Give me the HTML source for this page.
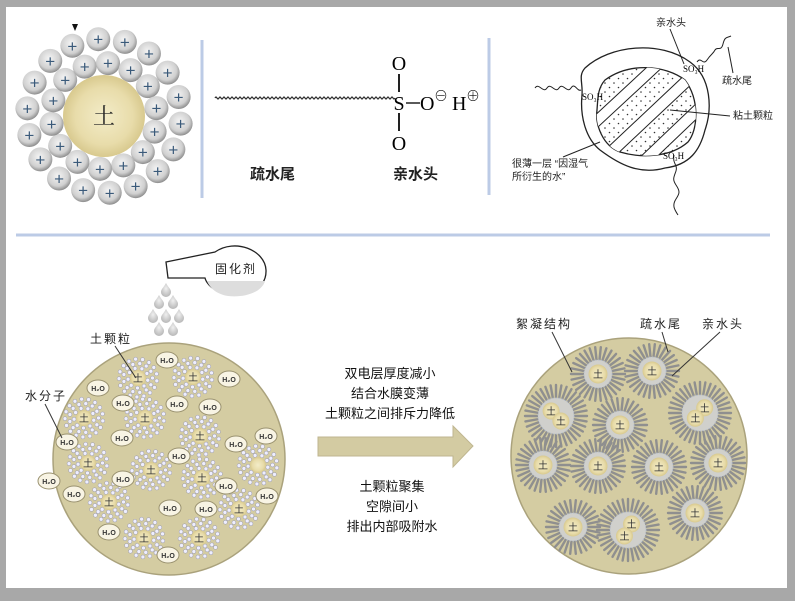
<!DOCTYPE html>
<html><head><meta charset="utf-8"><style>
html,body{margin:0;padding:0;background:#9a9a9a;}
svg{display:block}
text{font-family:"Liberation Sans","Noto Sans CJK SC",sans-serif}
.serif{font-family:"Liberation Serif","Noto Serif CJK SC",serif}
</style></head><body>
<svg id="s" width="795" height="601" viewBox="0 0 795 601" xmlns="http://www.w3.org/2000/svg">
<defs>
<radialGradient id="soil" cx="50%" cy="50%" r="50%"><stop offset="0" stop-color="#f3ecc8"/><stop offset="0.7" stop-color="#e8dcaa"/><stop offset="1" stop-color="#d8c98e"/></radialGradient>
<radialGradient id="ball" cx="45%" cy="40%" r="60%"><stop offset="0" stop-color="#f4f4f4"/><stop offset="0.7" stop-color="#d0d0d0"/><stop offset="1" stop-color="#8e8e8e"/></radialGradient>
<radialGradient id="drop" cx="50%" cy="40%" r="60%"><stop offset="0" stop-color="#f0f0f0"/><stop offset="1" stop-color="#b8b8b8"/></radialGradient>
<pattern id="dots" width="9" height="9" patternUnits="userSpaceOnUse"><circle cx="2" cy="2" r="0.8" fill="#333"/><circle cx="6.5" cy="6.5" r="0.8" fill="#333"/></pattern>
</defs>
<rect x="0" y="0" width="795" height="601" fill="#a8a8a8"/>
<rect x="6" y="7" width="781" height="581" fill="#fff"/>
<line x1="202" y1="40" x2="202" y2="198" stroke="#bccbe6" stroke-width="3"/>
<line x1="489" y1="38" x2="489" y2="195" stroke="#bccbe6" stroke-width="3"/>
<line x1="16" y1="235" x2="770" y2="235" stroke="#bccbe6" stroke-width="3"/>
<g id="cluster"></g>
<circle cx="104" cy="116" r="41" fill="url(#soil)"/>
<text x="104" y="124" font-size="22" text-anchor="middle" fill="#222" class="serif">土</text>
<path d="M72 24 L78 24 L75 31 Z" fill="#111"/>
<path id="wave" fill="none" stroke="#222" stroke-width="1.2"/>
<text x="399" y="70" font-size="20" text-anchor="middle" class="serif">O</text>
<line x1="399" y1="74" x2="399" y2="92" stroke="#222" stroke-width="2"/>
<text x="399" y="110" font-size="20" text-anchor="middle" class="serif">S</text>
<line x1="399" y1="113" x2="399" y2="131" stroke="#222" stroke-width="2"/>
<text x="399" y="150" font-size="20" text-anchor="middle" class="serif">O</text>
<line x1="406" y1="103" x2="420" y2="103" stroke="#222" stroke-width="1.5"/>
<text x="420" y="110" font-size="20" class="serif">O</text>
<text x="434" y="101" font-size="14" class="serif">⊖</text>
<text x="452" y="110" font-size="20" class="serif">H</text>
<text x="466" y="101" font-size="14" class="serif">⊕</text>
<text x="250" y="179" font-size="15" font-weight="bold" fill="#222">疏水尾</text>
<text x="393" y="179" font-size="15" font-weight="bold" fill="#222">亲水头</text>
<path d="M585 68 C610 45 660 40 690 62 C712 78 712 110 705 130 C700 150 690 165 665 168 C640 175 620 165 600 150 C585 138 580 115 582 95 C583 82 578 76 585 68 Z" fill="#fff" stroke="#222" stroke-width="1.3"/>
<clipPath id="cp"><path d="M605 80 C630 62 665 65 685 80 C700 100 698 130 688 142 C670 158 640 158 620 152 C603 146 595 125 597 110 C598 96 598 88 605 80 Z"/></clipPath>
<path d="M605 80 C630 62 665 65 685 80 C700 100 698 130 688 142 C670 158 640 158 620 152 C603 146 595 125 597 110 C598 96 598 88 605 80 Z" fill="url(#dots)" stroke="#222" stroke-width="1.3"/>
<g clip-path="url(#cp)" stroke="#222" stroke-width="1" fill="#fff">
<path d="M590 120 L660 55 L668 62 L598 127 Z"/>
<path d="M605 150 L690 70 L698 78 L613 158 Z"/>
<path d="M635 162 L700 100 L708 108 L643 170 Z"/>
</g>
<path d="M535 88 c4 -6 8 6 12 0 s8 6 12 0 s8 6 12 0 s6 4 10 2" fill="none" stroke="#222"/>
<path d="M697 62 c4 -6 6 4 10 -2 s6 -6 8 -10 s6 2 8 -6 s4 -6 8 -8" fill="none" stroke="#222"/>
<path d="M674 155 c-2 8 4 10 2 16 s-4 8 0 14 s4 8 0 14 s-2 10 2 16" fill="none" stroke="#222"/>
<text x="582" y="100" font-size="9" class="serif">SO₃H</text>
<text x="683" y="72" font-size="9" class="serif">SO₃H</text>
<text x="663" y="159" font-size="9" class="serif">SO₃H</text>
<text x="656" y="26" font-size="10" fill="#222">亲水头</text>
<line x1="670" y1="29" x2="684" y2="64" stroke="#222"/>
<text x="722" y="84" font-size="10" fill="#222">疏水尾</text>
<line x1="733" y1="73" x2="728" y2="47" stroke="#222"/>
<text x="733" y="119" font-size="10" fill="#222">粘土颗粒</text>
<line x1="730" y1="116" x2="670" y2="110" stroke="#222"/>
<text x="512" y="167" font-size="10" fill="#222">很薄一层 “因湿气</text>
<text x="512" y="180" font-size="10" fill="#222">所衍生的水”</text>
<line x1="563" y1="157" x2="600" y2="142" stroke="#222"/>
<path d="M166 262 L215 252 C235 238 265 250 266 270 C267 292 240 300 220 292 C210 288 206 282 205 278 L168 278 Z" fill="#fff" stroke="#222" stroke-width="1.3"/>
<path d="M207 281 L265 281 C262 292 245 298 228 296 C216 294 210 288 207 281 Z" fill="#ddd"/>
<text x="215" y="273" font-size="12" fill="#222" letter-spacing="2">固化剂</text>
<g id="drops"></g>
<circle cx="169" cy="459" r="116" fill="#d4cca2" stroke="#aaa27c" stroke-width="1.5"/>
<g id="bl"></g>
<text x="90" y="343" font-size="12" fill="#222" letter-spacing="2">土颗粒</text>
<line x1="115" y1="346" x2="136" y2="378" stroke="#333"/>
<text x="25" y="400" font-size="12" fill="#222" letter-spacing="2">水分子</text>
<line x1="45" y1="404" x2="62" y2="438" stroke="#333"/>
<path d="M318 437 L453 437 L453 426 L473 446 L453 467 L453 456 L318 456 Z" fill="#d3cba2" stroke="#bfb690"/>
<g font-size="13" fill="#111" text-anchor="middle">
<text x="390" y="378">双电层厚度减小</text>
<text x="390" y="398">结合水膜变薄</text>
<text x="390" y="418">土颗粒之间排斥力降低</text>
<text x="392" y="491">土颗粒聚集</text>
<text x="392" y="511">空隙间小</text>
<text x="392" y="531">排出内部吸附水</text>
</g>
<circle cx="629" cy="456" r="118" fill="#d4cca2" stroke="#aaa27c" stroke-width="1.5"/>
<g id="br"></g>
<g font-size="12" fill="#222" letter-spacing="2">
<text x="516" y="328">絮凝结构</text>
<text x="640" y="328">疏水尾</text>
<text x="702" y="328">亲水头</text>
</g>
<line x1="552" y1="332" x2="572" y2="372" stroke="#333"/>
<line x1="662" y1="332" x2="668" y2="352" stroke="#333"/>
<line x1="720" y1="332" x2="672" y2="376" stroke="#333"/>
</svg>
<script>
var NS="http://www.w3.org/2000/svg";
function el(p,t,a,txt){var e=document.createElementNS(NS,t);for(var k in a)e.setAttribute(k,a[k]);if(txt)e.textContent=txt;p.appendChild(e);return e;}
var c=document.getElementById('cluster');
function ring(R,n,off){for(var i=0;i<n;i++){var a=off+i*2*Math.PI/n;var x=104+R*Math.cos(a),y=116+R*Math.sin(a);
el(c,'circle',{cx:x,cy:y,r:12,fill:'url(#ball)'});el(c,'text',{x:x,y:y+6,'font-size':17,'text-anchor':'middle',fill:'#3a5a7a'},'+');}}
ring(77,18,0.1);ring(53,14,0.3);
var d="M215 98";for(var x=215;x<392;x+=4){d+=" q1 -2 2 0 q1 2 2 0";}
document.getElementById('wave').setAttribute('d',d);
var dg=document.getElementById('drops');
[[166,290],[159,302],[173,302],[153,316],[166,316],[179,316],[159,329],[173,329]].forEach(function(p){
el(dg,'path',{d:'M'+p[0]+' '+(p[1]-7)+' C'+(p[0]+2)+' '+(p[1]-3)+' '+(p[0]+5)+' '+(p[1]-1)+' '+(p[0]+5)+' '+(p[1]+2)+' A5 5 0 0 1 '+(p[0]-5)+' '+(p[1]+2)+' C'+(p[0]-5)+' '+(p[1]-1)+' '+(p[0]-2)+' '+(p[1]-3)+' '+p[0]+' '+(p[1]-7)+'Z',fill:'url(#drop)'});});
var bl=document.getElementById('bl');
function part(g,x,y,lab){for(var r=10;r<=19;r+=4.5){var n=Math.round(r*0.9);for(var i=0;i<n;i++){var a=i*2*Math.PI/n+r;el(g,'circle',{cx:x+r*Math.cos(a),cy:y+r*Math.sin(a),r:2,fill:'#eef',stroke:'#99a','stroke-width':0.5});}}
el(g,'circle',{cx:x,cy:y,r:8,fill:'url(#soil)'});if(lab)el(g,'text',{x:x,y:y+4,'font-size':10,'text-anchor':'middle',fill:'#333'},'土');}
[[138,378],[193,377],[84,418],[145,418],[200,436],[88,463],[151,470],[202,478],[109,502],[239,509],[144,538],[199,538]].forEach(function(p){part(bl,p[0],p[1],1);});
part(bl,258,465,0);
function h2o(g,x,y){el(g,'ellipse',{cx:x,cy:y,rx:11,ry:8,fill:'#f8f4e4',stroke:'#9a9270','stroke-width':1});el(g,'text',{x:x,y:y+3,'font-size':7,'text-anchor':'middle',fill:'#333','font-weight':'bold'},'H₂O');}
[[167,360],[98,388],[229,379],[123,403],[177,404],[210,407],[67,442],[122,438],[179,456],[236,444],[266,436],[123,479],[226,486],[74,494],[170,508],[206,509],[267,496],[109,532],[168,555],[49,481]].forEach(function(p){h2o(bl,p[0],p[1]);});
var br=document.getElementById('br');
function floc(x,y,two,ang){var g=el(br,'g',{});var n=30,R1=14,R2=27;
if(two){R1=18;R2=31;n=36;}
for(var i=0;i<n;i++){var a=i*2*Math.PI/n;el(g,'line',{x1:x+R1*Math.cos(a),y1:y+R1*Math.sin(a),x2:x+R2*Math.cos(a),y2:y+R2*Math.sin(a),stroke:'#8f8f8f','stroke-width':2.4,'stroke-linecap':'round'});}
el(g,'circle',{cx:x,cy:y,r:R1,fill:'#d0d0cc',stroke:'#b8c0cc','stroke-dasharray':'1.5 1.5'});
if(two){var dx=7*Math.cos(ang),dy=7*Math.sin(ang);[[x-dx,y-dy],[x+dx,y+dy]].forEach(function(p){el(g,'circle',{cx:p[0],cy:p[1],r:8.5,fill:'url(#soil)'});el(g,'text',{x:p[0],y:p[1]+4,'font-size':10,'text-anchor':'middle',fill:'#333'},'土');});}
else{el(g,'circle',{cx:x,cy:y,r:9.5,fill:'url(#soil)'});el(g,'text',{x:x,y:y+4,'font-size':10,'text-anchor':'middle',fill:'#333'},'土');}}
floc(598,374,0);floc(652,371,0);floc(556,416,1,0.8);floc(620,425,0);floc(700,413,1,2.3);
floc(543,465,0);floc(598,466,0);floc(659,467,0);floc(718,463,0);floc(573,527,0);floc(628,530,1,2.1);floc(695,513,0);
</script>
</body></html>
